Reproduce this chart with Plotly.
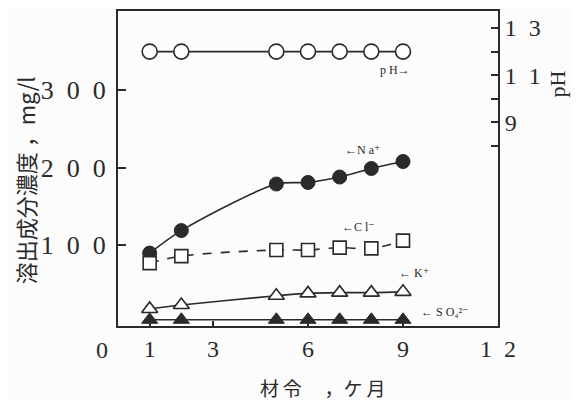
import plotly.graph_objects as go

months = [1, 2, 5, 6, 7, 8, 9]
ph_vals = [12.0, 12.0, 12.0, 12.0, 12.0, 12.0, 12.0]
na_vals = [90, 119, 179, 181, 188, 199, 208]
cl_vals = [77, 86, 94, 94, 97, 96, 106]
k_vals = [18, 23, 35, 38, 39, 39, 40]
so4_vals = [4, 4, 4, 4, 4, 4, 4]

SP = "\u2002"
x_ticks = [1, 3, 6, 9, 12]
x_ticktext = ["1", "3", "6", "9", "1" + SP + "2"]
y_ticks = [100, 200, 300]
y_ticktext = ["1" + SP + "0" + SP + "0", "2" + SP + "0" + SP + "0", "3" + SP + "0" + SP + "0"]
ph_ticks = [8, 9, 10, 11, 12, 13]
ph_ticktext = ["", "9", "", "1" + SP + "1", "", "1" + SP + "3"]

INK = "#2a2a2a"
serif = "Liberation Serif, DejaVu Serif, serif"
cjk = "Noto Sans CJK JP"

fig = go.Figure()

line = dict(color=INK, width=1.6)

fig.add_trace(go.Scatter(x=months, y=na_vals, mode="lines+markers",
                         line=dict(color=INK, width=1.6, shape="spline", smoothing=0.8),
                         marker=dict(symbol="circle", size=14, color=INK,
                                     line=dict(color=INK, width=1))))
fig.add_trace(go.Scatter(x=months, y=cl_vals, mode="lines+markers",
                         line=dict(color=INK, width=1.6, dash="dash", shape="spline"),
                         marker=dict(symbol="square", size=13, color="white",
                                     line=dict(color=INK, width=1.6))))
fig.add_trace(go.Scatter(x=months, y=k_vals, mode="lines+markers",
                         line=dict(color=INK, width=1.6, shape="spline"),
                         marker=dict(symbol="triangle-up", size=14, color="white",
                                     line=dict(color=INK, width=1.6))))
fig.add_trace(go.Scatter(x=months, y=so4_vals, mode="lines+markers",
                         line=line,
                         marker=dict(symbol="triangle-up", size=14, color=INK,
                                     line=dict(color=INK, width=1))))
fig.add_trace(go.Scatter(x=months, y=ph_vals, yaxis="y2", mode="lines+markers",
                         line=line,
                         marker=dict(symbol="circle", size=15, color="white",
                                     line=dict(color=INK, width=1.6))))

ann_font = dict(family=serif, size=12, color=INK)
annotations = [
    dict(x=9.28, y=11.2, yref="y2", xref="x", text="p H→", showarrow=False,
         xanchor="right", font=ann_font),
    dict(x=7.1, y=223, xref="x", yref="y", text="←N a⁺", showarrow=False,
         xanchor="left", font=ann_font),
    dict(x=7.0, y=124, xref="x", yref="y", text="←C l⁻", showarrow=False,
         xanchor="left", font=ann_font),
    dict(x=8.8, y=64, xref="x", yref="y", text="← K⁺", showarrow=False,
         xanchor="left", font=ann_font),
    dict(x=9.5, y=14, xref="x", yref="y", text="← S O₄²⁻", showarrow=False,
         xanchor="left", font=ann_font),
    dict(x=0, y=0, xref="x", yref="paper", text="0", showarrow=False,
         xanchor="center", yanchor="top", xshift=-16, yshift=-9,
         font=dict(family=serif, size=24, color=INK)),
    dict(x=1, y=10.6, xref="paper", yref="y2", text="pH", showarrow=False,
         textangle=-90, xanchor="center", yanchor="middle", xshift=60,
         font=dict(family=serif, size=22, color=INK)),
    dict(x=0, y=184, xref="paper", yref="y", text="溶出成分濃度 ，mg/l",
         showarrow=False, textangle=-90, xanchor="center", yanchor="middle",
         xshift=-93, font=dict(family=cjk, size=22, color=INK)),
    dict(x=6.47, y=0, xref="x", yref="paper",
         text="材\u2009令\u3000\u2009，ケ\u2009月",
         showarrow=False, xanchor="center", yanchor="middle", yshift=-61,
         font=dict(family=cjk, size=19, color=INK)),
]

fig.update_layout(
    width=571, height=392,
    margin=dict(l=110, r=81, t=3, b=74, autoexpand=False),
    paper_bgcolor="#fcfcfc", plot_bgcolor="#fcfcfc",
    showlegend=False,
    annotations=annotations,
    xaxis=dict(range=[0, 12], tickvals=x_ticks, ticktext=x_ticktext,
               ticks="inside", ticklen=5, tickcolor=INK, tickwidth=1.5,
               showline=True, linecolor=INK, linewidth=2, mirror=True,
               showgrid=False, zeroline=False, automargin=False,
               tickfont=dict(family=serif, size=24, color=INK)),
    yaxis=dict(range=[-4, 402], tickvals=y_ticks, ticktext=y_ticktext,
               ticks="inside", ticklen=8, tickcolor=INK, tickwidth=1.5,
               showline=True, linecolor=INK, linewidth=2,
               showgrid=False, zeroline=False, automargin=False,
               ticklabelstandoff=5,
               tickfont=dict(family=serif, size=26, color=INK)),
    yaxis2=dict(range=[0.37, 13.72], overlaying="y", side="right",
                tickvals=ph_ticks, ticktext=ph_ticktext,
                ticks="inside", ticklen=7, tickcolor=INK, tickwidth=1.5,
                showline=True, linecolor=INK, linewidth=2,
                showgrid=False, zeroline=False, automargin=False,
                tickfont=dict(family=serif, size=24, color=INK)),
)

fig.write_html("out.html")
